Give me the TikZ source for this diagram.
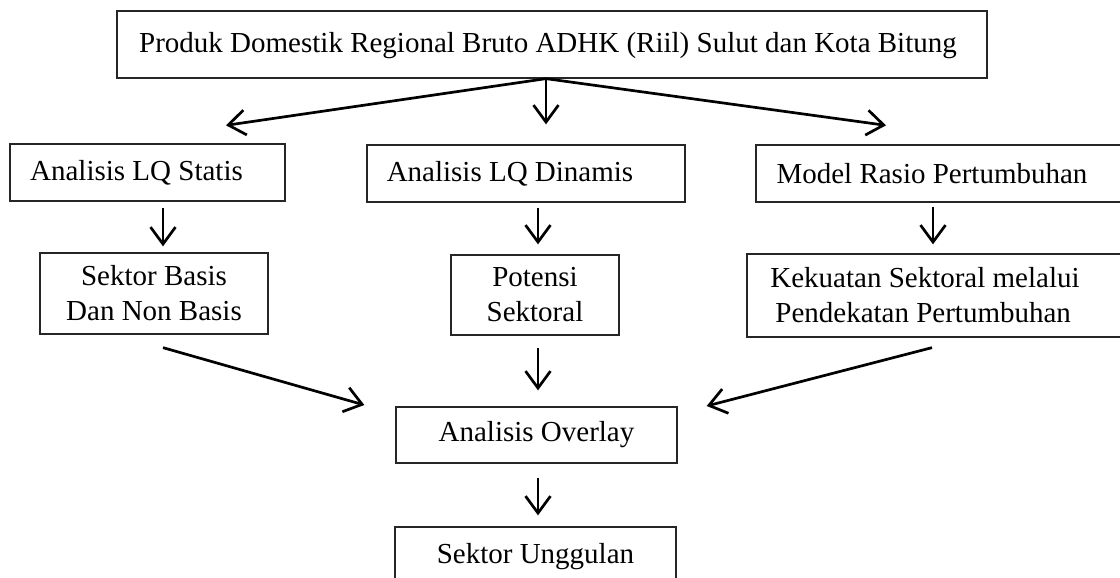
\documentclass[tikz,border=0pt]{standalone}
\usepackage{fontspec}
\setmainfont{Liberation Serif}
\usetikzlibrary{arrows.meta,calc}
\begin{document}
\begin{tikzpicture}[x=1pt,y=-1pt,
  txt/.style={font=\fontsize{29}{35}\selectfont,inner sep=0pt,align=center},
  box/.style={draw=black!85,line width=1.3pt,rectangle,inner sep=0pt},
  arr/.style={line width=2.7pt,-{Straight Barb[length=17pt,width=25pt]}}]
\useasboundingbox (0,0) rectangle (1120,578);
% top
\node[box,minimum width=870pt,minimum height=67pt,
  label={[txt,xshift=-4pt,yshift=-1pt]center:Produk Domestik Regional Bruto ADHK (Riil) Sulut dan Kota Bitung}] (top) at (552,44.5) {};
% row 2
\node[box,minimum width=275pt,minimum height=57pt,
  label={[txt,xshift=-11pt]center:Analisis LQ Statis}] (stat) at (147.5,172.5) {};
\node[box,minimum width=318pt,minimum height=57pt,
  label={[txt,xshift=-16pt]center:Analisis LQ Dinamis}] (din) at (526,173.5) {};
\node[box,minimum width=369pt,minimum height=57pt,
  label={[txt,xshift=-8.5pt]center:Model Rasio Pertumbuhan}] (mod) at (940.5,173.5) {};
% row 3
\node[box,minimum width=228pt,minimum height=81pt,
  label={[txt]center:Sektor Basis\\Dan Non Basis}] (basis) at (154,293.5) {};
\node[box,minimum width=168pt,minimum height=80pt,
  label={[txt]center:Potensi\\Sektoral}] (pot) at (535,295) {};
\node[box,minimum width=378pt,minimum height=83pt,
  label={[txt,align=left,xshift=-11pt]center:Kekuatan Sektoral melalui\\\hspace*{5pt}Pendekatan Pertumbuhan}] (kek) at (936,295.5) {};
% row 4,5
\node[box,minimum width=281pt,minimum height=56pt,
  label={[txt]center:Analisis Overlay}] (ovl) at (536.5,435) {};
\node[box,minimum width=281pt,minimum height=60pt,
  label={[txt]center:Sektor Unggulan}] (ung) at (535.5,557) {};
% connectors
\coordinate (J) at ($(top.south)+(-6,0)$);
\draw[arr] (J) -- ($(stat.north)+(78.5,-18)$);
\draw[arr] (J) -- ($(din.north)+(20,-20)$);
\draw[arr] (J) -- ($(mod.north)+(-54.5,-19)$);
\draw[arr] ($(stat.south)+(15.5,6)$) -- ($(basis.north)+(9,-6)$);
\draw[arr] ($(din.south)+(12,5)$) -- ($(pot.north)+(3,-10)$);
\draw[arr] ($(mod.south)+(-7.5,4)$) -- ($(kek.north)+(-3,-9)$);
\draw[arr] ($(basis.south)+(9,13)$) -- ($(ovl.west)+(-31,-30)$);
\draw[arr] ($(pot.south)+(3,12)$) -- ($(ovl.north)+(1.5,-16)$);
\draw[arr] ($(kek.south)+(-4,10)$) -- ($(ovl.east)+(29,-29)$);
\draw[arr] ($(ovl.south)+(1.5,14)$) -- ($(ung.north)+(2.5,-11)$);
\end{tikzpicture}
\end{document}
